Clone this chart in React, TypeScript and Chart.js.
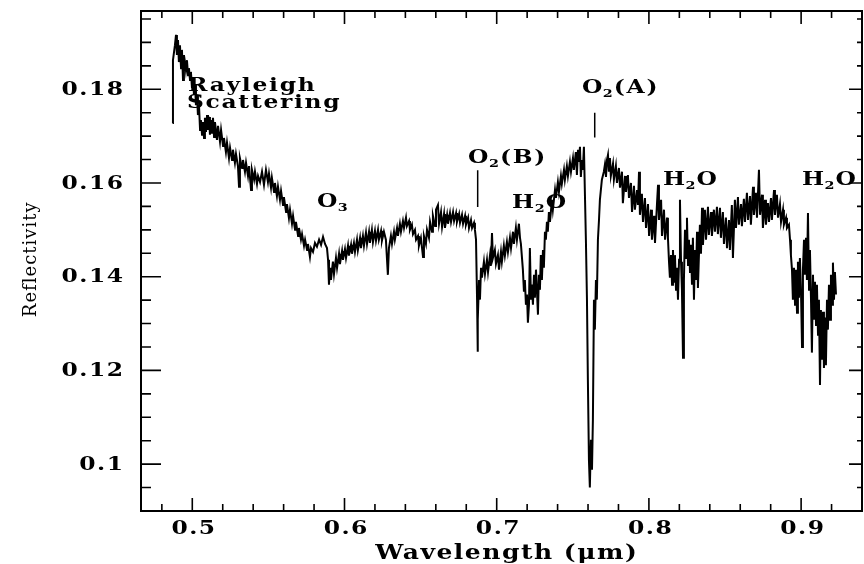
import React, { useEffect, useRef } from 'react';
import { Chart, registerables } from 'chart.js';

Chart.register(...registerables);

const wavelength = [
  0.4870, 0.4873, 0.4886, 0.4893, 0.4899, 0.4906, 0.4912, 0.4919, 0.4926, 0.4932,
  0.4939, 0.4945, 0.4952, 0.4958, 0.4965, 0.4972, 0.4978, 0.4985, 0.4991, 0.4998,
  0.5005, 0.5011, 0.5018, 0.5024, 0.5031, 0.5037, 0.5044, 0.5051, 0.5057, 0.5064,
  0.5070, 0.5077, 0.5083, 0.5090, 0.5097, 0.5103, 0.5110, 0.5116, 0.5123, 0.5129,
  0.5136, 0.5143, 0.5149, 0.5162, 0.5169, 0.5182, 0.5189, 0.5202, 0.5208, 0.5221,
  0.5228, 0.5241, 0.5248, 0.5261, 0.5267, 0.5280, 0.5287, 0.5300, 0.5307, 0.5313,
  0.5327, 0.5333, 0.5346, 0.5353, 0.5366, 0.5373, 0.5386, 0.5392, 0.5406, 0.5412,
  0.5425, 0.5432, 0.5445, 0.5458, 0.5471, 0.5484, 0.5497, 0.5504, 0.5517, 0.5523,
  0.5537, 0.5543, 0.5556, 0.5563, 0.5576, 0.5583, 0.5596, 0.5602, 0.5616, 0.5622,
  0.5635, 0.5642, 0.5655, 0.5662, 0.5675, 0.5681, 0.5695, 0.5701, 0.5714, 0.5721,
  0.5734, 0.5741, 0.5754, 0.5760, 0.5773, 0.5780, 0.5793, 0.5806, 0.5819, 0.5833,
  0.5846, 0.5859, 0.5872, 0.5885, 0.5892, 0.5898, 0.5905, 0.5911, 0.5924, 0.5931,
  0.5944, 0.5951, 0.5964, 0.5970, 0.5984, 0.5990, 0.6003, 0.6010, 0.6023, 0.6029,
  0.6043, 0.6049, 0.6062, 0.6069, 0.6082, 0.6088, 0.6102, 0.6108, 0.6121, 0.6128,
  0.6141, 0.6148, 0.6161, 0.6167, 0.6180, 0.6187, 0.6200, 0.6207, 0.6220, 0.6226,
  0.6240, 0.6246, 0.6259, 0.6272, 0.6285, 0.6292, 0.6305, 0.6312, 0.6325, 0.6331,
  0.6345, 0.6351, 0.6364, 0.6371, 0.6384, 0.6391, 0.6404, 0.6410, 0.6424, 0.6430,
  0.6443, 0.6450, 0.6463, 0.6470, 0.6483, 0.6489, 0.6502, 0.6516, 0.6522, 0.6535,
  0.6542, 0.6555, 0.6562, 0.6575, 0.6581, 0.6595, 0.6601, 0.6614, 0.6621, 0.6634,
  0.6641, 0.6654, 0.6660, 0.6674, 0.6680, 0.6693, 0.6700, 0.6713, 0.6720, 0.6733,
  0.6739, 0.6753, 0.6759, 0.6772, 0.6779, 0.6792, 0.6798, 0.6812, 0.6818, 0.6831,
  0.6838, 0.6851, 0.6857, 0.6864, 0.6871, 0.6874, 0.6877, 0.6884, 0.6890, 0.6897,
  0.6903, 0.6916, 0.6923, 0.6936, 0.6943, 0.6956, 0.6962, 0.6969, 0.6975, 0.6988,
  0.6995, 0.7008, 0.7015, 0.7028, 0.7034, 0.7047, 0.7054, 0.7067, 0.7074, 0.7087,
  0.7094, 0.7107, 0.7113, 0.7126, 0.7133, 0.7146, 0.7153, 0.7159, 0.7172, 0.7179,
  0.7185, 0.7192, 0.7199, 0.7205, 0.7212, 0.7218, 0.7225, 0.7231, 0.7238, 0.7245,
  0.7251, 0.7258, 0.7264, 0.7271, 0.7277, 0.7284, 0.7290, 0.7297, 0.7304, 0.7310,
  0.7317, 0.7323, 0.7330, 0.7336, 0.7343, 0.7350, 0.7363, 0.7369, 0.7383, 0.7389,
  0.7402, 0.7409, 0.7422, 0.7428, 0.7442, 0.7448, 0.7461, 0.7468, 0.7481, 0.7488,
  0.7501, 0.7507, 0.7520, 0.7527, 0.7534, 0.7540, 0.7547, 0.7553, 0.7560, 0.7566,
  0.7573, 0.7580, 0.7586, 0.7593, 0.7599, 0.7606, 0.7612, 0.7619, 0.7626, 0.7632,
  0.7639, 0.7645, 0.7652, 0.7658, 0.7665, 0.7672, 0.7678, 0.7691, 0.7704, 0.7711,
  0.7718, 0.7724, 0.7731, 0.7737, 0.7744, 0.7750, 0.7764, 0.7770, 0.7783, 0.7790,
  0.7803, 0.7810, 0.7823, 0.7829, 0.7843, 0.7849, 0.7862, 0.7869, 0.7882, 0.7889,
  0.7902, 0.7908, 0.7922, 0.7928, 0.7935, 0.7941, 0.7954, 0.7961, 0.7974, 0.7981,
  0.7994, 0.8001, 0.8014, 0.8020, 0.8034, 0.8040, 0.8053, 0.8060, 0.8066, 0.8080,
  0.8086, 0.8099, 0.8106, 0.8119, 0.8125, 0.8132, 0.8138, 0.8145, 0.8152, 0.8158,
  0.8165, 0.8171, 0.8178, 0.8184, 0.8191, 0.8198, 0.8204, 0.8211, 0.8217, 0.8224,
  0.8230, 0.8237, 0.8244, 0.8250, 0.8257, 0.8263, 0.8270, 0.8276, 0.8283, 0.8289,
  0.8296, 0.8303, 0.8309, 0.8316, 0.8322, 0.8335, 0.8342, 0.8349, 0.8355, 0.8368,
  0.8375, 0.8388, 0.8394, 0.8408, 0.8414, 0.8427, 0.8434, 0.8447, 0.8453, 0.8467,
  0.8473, 0.8486, 0.8493, 0.8506, 0.8513, 0.8526, 0.8532, 0.8545, 0.8552, 0.8565,
  0.8572, 0.8585, 0.8591, 0.8605, 0.8611, 0.8624, 0.8631, 0.8644, 0.8651, 0.8664,
  0.8670, 0.8684, 0.8690, 0.8703, 0.8710, 0.8723, 0.8730, 0.8743, 0.8749, 0.8763,
  0.8769, 0.8782, 0.8789, 0.8802, 0.8808, 0.8822, 0.8828, 0.8841, 0.8848, 0.8861,
  0.8868, 0.8881, 0.8887, 0.8901, 0.8907, 0.8920, 0.8927, 0.8933, 0.8940, 0.8946,
  0.8953, 0.8960, 0.8966, 0.8973, 0.8979, 0.8986, 0.8992, 0.8999, 0.9006, 0.9012,
  0.9019, 0.9025, 0.9032, 0.9038, 0.9045, 0.9052, 0.9058, 0.9065, 0.9071, 0.9078,
  0.9084, 0.9091, 0.9098, 0.9104, 0.9111, 0.9117, 0.9124, 0.9130, 0.9137, 0.9144,
  0.9150, 0.9157, 0.9163, 0.9170, 0.9176, 0.9183, 0.9190, 0.9196, 0.9203, 0.9209,
  0.9216, 0.9222, 0.9229,
];

const reflectivity = [
  0.1728, 0.1862, 0.1894, 0.1916, 0.1873, 0.1905, 0.1858, 0.1894, 0.1845, 0.1884,
  0.1820, 0.1873, 0.1858, 0.1841, 0.1862, 0.1830, 0.1845, 0.1820, 0.1837, 0.1803,
  0.1824, 0.1788, 0.1809, 0.1766, 0.1788, 0.1745, 0.1766, 0.1713, 0.1734, 0.1703,
  0.1730, 0.1696, 0.1739, 0.1709, 0.1745, 0.1713, 0.1741, 0.1703, 0.1734, 0.1705,
  0.1739, 0.1698, 0.1730, 0.1692, 0.1722, 0.1688, 0.1713, 0.1679, 0.1696, 0.1666,
  0.1686, 0.1653, 0.1675, 0.1649, 0.1671, 0.1643, 0.1662, 0.1636, 0.1592, 0.1653,
  0.1632, 0.1649, 0.1624, 0.1643, 0.1615, 0.1636, 0.1585, 0.1628, 0.1607, 0.1624,
  0.1598, 0.1615, 0.1602, 0.1624, 0.1596, 0.1628, 0.1602, 0.1620, 0.1590, 0.1611,
  0.1581, 0.1600, 0.1572, 0.1592, 0.1564, 0.1583, 0.1553, 0.1570, 0.1538, 0.1555,
  0.1525, 0.1543, 0.1513, 0.1530, 0.1500, 0.1517, 0.1487, 0.1504, 0.1479, 0.1491,
  0.1466, 0.1479, 0.1457, 0.1470, 0.1442, 0.1461, 0.1453, 0.1472, 0.1464, 0.1479,
  0.1468, 0.1485, 0.1470, 0.1461, 0.1436, 0.1383, 0.1419, 0.1393, 0.1432, 0.1406,
  0.1440, 0.1419, 0.1449, 0.1427, 0.1455, 0.1436, 0.1459, 0.1440, 0.1466, 0.1445,
  0.1468, 0.1449, 0.1472, 0.1453, 0.1479, 0.1457, 0.1483, 0.1461, 0.1487, 0.1466,
  0.1494, 0.1470, 0.1496, 0.1472, 0.1500, 0.1474, 0.1498, 0.1477, 0.1500, 0.1479,
  0.1498, 0.1477, 0.1496, 0.1479, 0.1404, 0.1461, 0.1487, 0.1470, 0.1496, 0.1479,
  0.1504, 0.1487, 0.1513, 0.1496, 0.1519, 0.1504, 0.1526, 0.1508, 0.1519, 0.1500,
  0.1511, 0.1491, 0.1500, 0.1479, 0.1487, 0.1466, 0.1483, 0.1442, 0.1487, 0.1470,
  0.1500, 0.1483, 0.1517, 0.1496, 0.1530, 0.1508, 0.1543, 0.1553, 0.1513, 0.1538,
  0.1506, 0.1534, 0.1504, 0.1532, 0.1513, 0.1536, 0.1517, 0.1538, 0.1519, 0.1536,
  0.1517, 0.1534, 0.1515, 0.1532, 0.1513, 0.1530, 0.1511, 0.1526, 0.1504, 0.1521,
  0.1504, 0.1515, 0.1500, 0.1479, 0.1351, 0.1240, 0.1308, 0.1393, 0.1351, 0.1419,
  0.1398, 0.1432, 0.1406, 0.1436, 0.1410, 0.1446, 0.1423, 0.1493, 0.1440, 0.1457,
  0.1427, 0.1446, 0.1415, 0.1453, 0.1432, 0.1466, 0.1445, 0.1474, 0.1453, 0.1483,
  0.1461, 0.1496, 0.1470, 0.1504, 0.1479, 0.1513, 0.1483, 0.1470, 0.1415, 0.1368,
  0.1393, 0.1340, 0.1362, 0.1302, 0.1340, 0.1461, 0.1351, 0.1383, 0.1340, 0.1404,
  0.1355, 0.1415, 0.1372, 0.1319, 0.1404, 0.1372, 0.1446, 0.1393, 0.1457, 0.1419,
  0.1496, 0.1479, 0.1517, 0.1496, 0.1538, 0.1517, 0.1564, 0.1543, 0.1585, 0.1568,
  0.1602, 0.1581, 0.1615, 0.1598, 0.1628, 0.1607, 0.1636, 0.1615, 0.1645, 0.1624,
  0.1653, 0.1628, 0.1666, 0.1617, 0.1671, 0.1645, 0.1677, 0.1613, 0.1649, 0.1628,
  0.1677, 0.1570, 0.1479, 0.1351, 0.1180, 0.1009, 0.0950, 0.1052, 0.0988, 0.1095,
  0.1351, 0.1287, 0.1393, 0.1351, 0.1479, 0.1521, 0.1564, 0.1607, 0.1624, 0.1639,
  0.1613, 0.1649, 0.1660, 0.1624, 0.1653, 0.1615, 0.1641, 0.1607, 0.1636, 0.1600,
  0.1632, 0.1590, 0.1624, 0.1557, 0.1615, 0.1581, 0.1617, 0.1568, 0.1600, 0.1538,
  0.1594, 0.1543, 0.1585, 0.1553, 0.1624, 0.1532, 0.1577, 0.1517, 0.1568, 0.1504,
  0.1555, 0.1487, 0.1543, 0.1479, 0.1530, 0.1472, 0.1555, 0.1596, 0.1521, 0.1564,
  0.1487, 0.1543, 0.1479, 0.1526, 0.1483, 0.1432, 0.1398, 0.1446, 0.1383, 0.1457,
  0.1389, 0.1446, 0.1372, 0.1419, 0.1351, 0.1436, 0.1564, 0.1432, 0.1372, 0.1227,
  0.1393, 0.1500, 0.1440, 0.1526, 0.1425, 0.1479, 0.1410, 0.1468, 0.1383, 0.1483,
  0.1351, 0.1457, 0.1393, 0.1496, 0.1376, 0.1511, 0.1449, 0.1547, 0.1468, 0.1543,
  0.1479, 0.1549, 0.1489, 0.1538, 0.1487, 0.1543, 0.1496, 0.1549, 0.1491, 0.1547,
  0.1483, 0.1538, 0.1470, 0.1526, 0.1461, 0.1521, 0.1457, 0.1553, 0.1440, 0.1564,
  0.1504, 0.1570, 0.1511, 0.1555, 0.1508, 0.1566, 0.1517, 0.1579, 0.1521, 0.1572,
  0.1511, 0.1592, 0.1532, 0.1579, 0.1526, 0.1628, 0.1532, 0.1575, 0.1504, 0.1564,
  0.1511, 0.1557, 0.1517, 0.1568, 0.1521, 0.1585, 0.1532, 0.1575, 0.1526, 0.1555,
  0.1517, 0.1543, 0.1511, 0.1526, 0.1504, 0.1511, 0.1479, 0.1446, 0.1415, 0.1351,
  0.1419, 0.1340, 0.1415, 0.1323, 0.1432, 0.1355, 0.1440, 0.1372, 0.1250, 0.1415,
  0.1479, 0.1404, 0.1483, 0.1393, 0.1536, 0.1372, 0.1457, 0.1351, 0.1238, 0.1404,
  0.1308, 0.1389, 0.1297, 0.1383, 0.1276, 0.1351, 0.1169, 0.1329, 0.1223, 0.1325,
  0.1205, 0.1313, 0.1211, 0.1351, 0.1287, 0.1383, 0.1308, 0.1404, 0.1340, 0.1430,
  0.1351, 0.1410, 0.1362,
];

const xMajorTicks = [0.5, 0.6, 0.7, 0.8, 0.9];
const xTickLabels = ['0.5', '0.6', '0.7', '0.8', '0.9'];
const xMinorTicks = [
  0.48, 0.52, 0.54, 0.56, 0.58, 0.62, 0.64, 0.66, 0.68, 0.72, 0.74, 0.76, 0.78,
  0.82, 0.84, 0.86, 0.88, 0.92,
];
const yMajorTicks = [0.1, 0.12, 0.14, 0.16, 0.18];
const yTickLabels = ['0.1', '0.12', '0.14', '0.16', '0.18'];
const yMinorTicks = [
  0.095, 0.105, 0.11, 0.115, 0.125, 0.13, 0.135, 0.145, 0.15, 0.155, 0.165,
  0.17, 0.175, 0.185, 0.19, 0.195,
];

const xTitle = 'Wavelength (μm)';
const yTitle = 'Reflectivity';

type Part = { t: string; sub?: boolean };
const annotationTexts: { parts: Part[]; x: number; y: number }[] = [
  { parts: [{ t: 'Rayleigh' }], x: 0.4972, y: 0.1797 },
  { parts: [{ t: 'Scattering' }], x: 0.4965, y: 0.1760 },
  { parts: [{ t: 'O' }, { t: '3', sub: true }], x: 0.5819, y: 0.1549 },
  { parts: [{ t: 'O' }, { t: '2', sub: true }, { t: '(B)' }], x: 0.6812, y: 0.1643 },
  { parts: [{ t: 'H' }, { t: '2', sub: true }, { t: 'O' }], x: 0.7101, y: 0.1547 },
  { parts: [{ t: 'O' }, { t: '2', sub: true }, { t: '(A)' }], x: 0.7560, y: 0.1792 },
  { parts: [{ t: 'H' }, { t: '2', sub: true }, { t: 'O' }], x: 0.8092, y: 0.1596 },
  { parts: [{ t: 'H' }, { t: '2', sub: true }, { t: 'O' }], x: 0.9005, y: 0.1596 },
];
const markerLines = [
  { x: 0.6875, y1: 0.1627, y2: 0.1549 },
  { x: 0.7644, y1: 0.1750, y2: 0.1697 },
];

const SERIF = '"DejaVu Serif", "Liberation Serif", serif';

// text with horizontal stretch k and extra letter spacing (px, in final space)
function textWidth(ctx: CanvasRenderingContext2D, text: string, spacing: number, k: number) {
  (ctx as any).letterSpacing = '0px';
  const w = ctx.measureText(text).width * k;
  return w + spacing * Math.max(0, Array.from(text).length - 1);
}

function drawText(
  ctx: CanvasRenderingContext2D,
  text: string,
  x: number,
  y: number,
  align: 'left' | 'center' | 'right',
  spacing: number,
  k: number,
) {
  const w = textWidth(ctx, text, spacing, k);
  let left = x;
  if (align === 'center') left = x - w / 2;
  else if (align === 'right') left = x - w;
  ctx.save();
  ctx.translate(left, y);
  ctx.scale(k, 1);
  (ctx as any).letterSpacing = spacing / k + 'px';
  ctx.textAlign = 'left';
  ctx.fillText(text, 0, 0);
  ctx.restore();
  return w;
}

function drawRich(ctx: CanvasRenderingContext2D, parts: Part[], x: number, y: number, size: number, spacing: number, k: number) {
  let cx = x;
  parts.forEach((p, i) => {
    const fs = p.sub ? Math.round(size * 0.62) : size;
    ctx.font = `bold ${fs}px ${SERIF}`;
    const yy = p.sub ? y + size * 0.22 : y;
    const w = drawText(ctx, p.t, cx, yy, 'left', p.sub ? 1 : spacing, k);
    if (i < parts.length - 1) {
      const nextSub = !!parts[i + 1].sub;
      cx += w + (nextSub ? 0.5 : p.sub ? 1 : spacing);
    }
  });
}

const K = 1.3;

const overlay = {
  id: 'pgplotFrame',
  afterDraw(chart: any) {
    const ctx: CanvasRenderingContext2D = chart.ctx;
    const xs = chart.scales.x;
    const ys = chart.scales.y;
    const a = chart.chartArea;
    ctx.save();
    ctx.strokeStyle = '#000';
    ctx.fillStyle = '#000';
    ctx.lineWidth = 2;
    ctx.strokeRect(a.left, a.top, a.right - a.left, a.bottom - a.top);

    ctx.lineWidth = 1.6;
    ctx.beginPath();
    const xTick = (v: number, len: number) => {
      const px = xs.getPixelForValue(v);
      ctx.moveTo(px, a.bottom);
      ctx.lineTo(px, a.bottom - len);
      ctx.moveTo(px, a.top);
      ctx.lineTo(px, a.top + len);
    };
    xMajorTicks.forEach((v) => xTick(v, 13));
    xMinorTicks.forEach((v) => xTick(v, 7));
    const yTick = (v: number, lenL: number, lenR: number) => {
      const py = ys.getPixelForValue(v);
      ctx.moveTo(a.left, py);
      ctx.lineTo(a.left + lenL, py);
      ctx.moveTo(a.right, py);
      ctx.lineTo(a.right - lenR, py);
    };
    yMajorTicks.forEach((v) => yTick(v, 20, 13));
    yMinorTicks.forEach((v) => yTick(v, 10, 5));
    ctx.stroke();

    ctx.lineWidth = 1.5;
    ctx.beginPath();
    markerLines.forEach((m) => {
      const px = xs.getPixelForValue(m.x);
      ctx.moveTo(px, ys.getPixelForValue(m.y1));
      ctx.lineTo(px, ys.getPixelForValue(m.y2));
    });
    ctx.stroke();

    // tick labels
    ctx.font = `bold 18px ${SERIF}`;
    ctx.textBaseline = 'middle';
    yMajorTicks.forEach((v, i) => {
      drawText(ctx, yTickLabels[i], a.left - 18, ys.getPixelForValue(v) + 1, 'right', 1.5, K);
    });
    xMajorTicks.forEach((v, i) => {
      drawText(ctx, xTickLabels[i], xs.getPixelForValue(v) + 1, a.bottom + 18, 'center', 1.5, K);
    });

    // x title
    ctx.font = `bold 20px ${SERIF}`;
    drawText(ctx, xTitle, 506, 554, 'center', 1.5, 1.25);

    // y title
    ctx.save();
    ctx.translate(31, 260);
    ctx.rotate(-Math.PI / 2);
    ctx.font = `18px ${SERIF}`;
    ctx.textBaseline = 'middle';
    drawText(ctx, yTitle, 0, 0, 'center', 1, 1);
    ctx.restore();

    // annotations
    ctx.textBaseline = 'alphabetic';
    annotationTexts.forEach((an) => {
      drawRich(ctx, an.parts, xs.getPixelForValue(an.x), ys.getPixelForValue(an.y), 18, 1.7, K);
    });
    ctx.restore();
  },
};

export default function App() {
  const ref = useRef<HTMLCanvasElement | null>(null);
  useEffect(() => {
    if (!ref.current) return;
    const n = Math.min(wavelength.length, reflectivity.length);
    const points = [];
    for (let i = 0; i < n; i++) points.push({ x: wavelength[i], y: reflectivity[i] });
    const chart = new Chart(ref.current, {
      type: 'line',
      data: {
        datasets: [
          {
            data: points,
            borderColor: '#000',
            borderWidth: 2,
            pointRadius: 0,
            tension: 0,
            fill: false,
          },
        ],
      },
      options: {
        animation: false,
        responsive: false,
        devicePixelRatio: 1,
        events: [],
        layout: { padding: { left: 141, top: 11, right: 2, bottom: 53 } },
        plugins: { legend: { display: false }, tooltip: { enabled: false } },
        scales: {
          x: { type: 'linear', min: 0.4663, max: 0.94, display: false },
          y: { type: 'linear', min: 0.09, max: 0.1967, display: false },
        },
      },
      plugins: [overlay],
    } as any);
    return () => chart.destroy();
  }, []);
  return (
    <div style={{ position: 'absolute', left: 0, top: 0, width: 864, height: 564, background: '#fff' }}>
      <canvas ref={ref} width={864} height={564} style={{ width: 864, height: 564, display: 'block' }} />
    </div>
  );
}
